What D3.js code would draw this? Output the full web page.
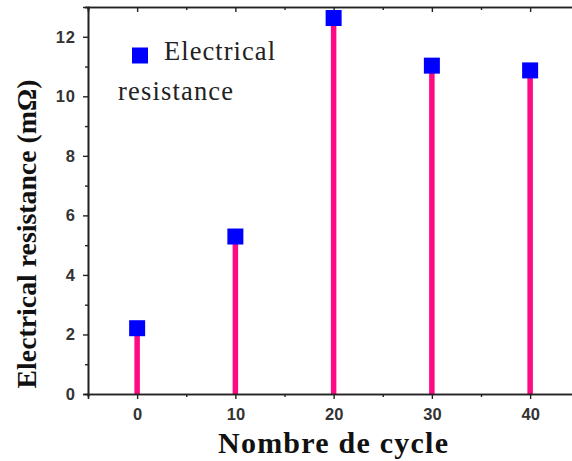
<!DOCTYPE html>
<html><head><meta charset="utf-8">
<script src="https://cdn.jsdelivr.net/npm/d3@7"></script>
<style>body{margin:0;background:#fff}svg{display:block}</style>
</head><body>
<svg id="c" width="572" height="461"></svg>
<script>
const cycles = [0, 10, 20, 30, 40];
const resistance = [2.21, 5.29, 12.63, 11.03, 10.87];
const xTicks = [0, 10, 20, 30, 40];
const xMinor = [-5, 5, 15, 25, 35, 45];
const yTicks = [0, 2, 4, 6, 8, 10, 12];
const yMinor = [1, 3, 5, 7, 9, 11, 13];
const legendLines = ["Electrical", "resistance"];

const svg = d3.select("#c");
const L = 88, T = 7, B = 394;
const x = d3.scaleLinear().domain([-5, 45]).range([L, L + 50 * 9.825]);
const y = d3.scaleLinear().domain([0, 13]).range([B, T]);
const axisCol = "#222";

// stems
svg.append("g").selectAll("line").data(cycles).join("line")
  .attr("x1", d => x(d)).attr("x2", d => x(d))
  .attr("y1", y(0)).attr("y2", (d, i) => y(resistance[i]))
  .attr("stroke", "#ff0a84").attr("stroke-width", 5.5);

// axes
const gB = svg.append("g").attr("transform", `translate(0,${B})`)
  .call(d3.axisBottom(x).tickValues(xTicks).tickSize(5).tickPadding(6).tickFormat(d3.format("d")));
const gBm = svg.append("g").attr("transform", `translate(0,${B})`)
  .call(d3.axisBottom(x).tickValues(xMinor).tickSize(3).tickFormat(""));
const gT = svg.append("g").attr("transform", `translate(0,${T})`)
  .call(d3.axisTop(x).tickValues(xTicks).tickSize(-5).tickFormat(""));
const gTm = svg.append("g").attr("transform", `translate(0,${T})`)
  .call(d3.axisTop(x).tickValues(xMinor).tickSize(-3).tickFormat(""));
const gL = svg.append("g").attr("transform", `translate(${L},0)`)
  .call(d3.axisLeft(y).tickValues(yTicks).tickSize(5).tickPadding(7).tickFormat(d3.format("d")));
const gLm = svg.append("g").attr("transform", `translate(${L},0)`)
  .call(d3.axisLeft(y).tickValues(yMinor).tickSize(3).tickFormat(""));

[gB, gBm, gT, gTm, gL, gLm].forEach(g => {
  g.selectAll(".domain").attr("stroke", axisCol).attr("stroke-width", 1.6);
  g.selectAll(".tick line").attr("stroke", axisCol).attr("stroke-width", 1.4);
  g.selectAll("text").attr("font-family", "'Liberation Sans', Arial, sans-serif")
    .attr("font-weight", "bold").attr("font-size", 16.5).attr("fill", "#333");
});
gB.selectAll("text").attr("dy", "0.9em");
gL.selectAll("text").attr("letter-spacing", "1px");

// markers
svg.append("g").selectAll("rect").data(cycles).join("rect")
  .attr("x", d => x(d) - 8).attr("y", (d, i) => y(resistance[i]) - 8)
  .attr("width", 16).attr("height", 16).attr("fill", "#0000ff");

// legend
svg.append("rect").attr("x", 132).attr("y", 47.5).attr("width", 16).attr("height", 16).attr("fill", "#0000ff");
const lt = svg.append("g").attr("font-family", "'Liberation Serif', 'Times New Roman', serif")
  .attr("font-size", 26.5).attr("fill", "#222");
lt.append("text").attr("x", 164).attr("y", 60).attr("textLength", 111).attr("lengthAdjust", "spacing").text(legendLines[0]);
lt.append("text").attr("x", 118).attr("y", 100).attr("textLength", 115).attr("lengthAdjust", "spacing").text(legendLines[1]);

// axis titles
svg.append("text").attr("x", 218).attr("y", 453)
  .attr("font-family", "'Liberation Serif', 'Times New Roman', serif")
  .attr("font-weight", "bold").attr("font-size", 30).attr("fill", "#111")
  .attr("textLength", 230).attr("lengthAdjust", "spacing")
  .text("Nombre de cycle");
svg.append("text").attr("transform", "translate(36,234) rotate(-90)").attr("text-anchor", "middle")
  .attr("font-family", "'Liberation Serif', 'Times New Roman', serif")
  .attr("font-weight", "bold").attr("font-size", 27.8).attr("fill", "#111")
  .text("Electrical resistance (mΩ)");
</script>
</body></html>
